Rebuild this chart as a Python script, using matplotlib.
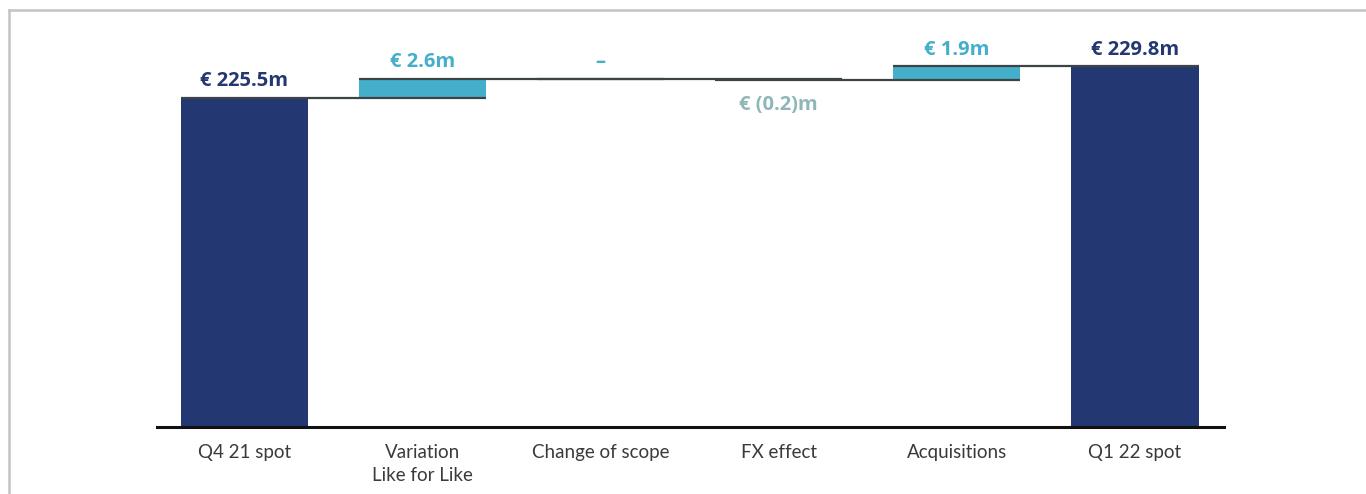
import matplotlib
matplotlib.use("Agg")
import matplotlib.pyplot as plt
from matplotlib.lines import Line2D

categories = ["Q4 21 spot", "Variation\nLike for Like", "Change of scope",
              "FX effect", "Acquisitions", "Q1 22 spot"]
values = [225.5, 2.6, 0.0, -0.2, 1.9, 229.8]
is_total = [True, False, False, False, False, True]
labels = ["€ 225.5m", "€ 2.6m", "–", "€ (0.2)m", "€ 1.9m", "€ 229.8m"]

NAVY = "#233872"
TEAL = "#44afca"
GREYTEAL = "#8fb7ba"
LINE = "#3c4446"

W, H = 1366, 494
fig = plt.figure(figsize=(W / 100, H / 100), dpi=100)
ax = fig.add_axes([157 / W, 67 / H, (1224 - 157) / W, (427 - 20) / H])
ymin = 180.0
ax.set_ylim(ymin, ymin + 407 / 7.24)
ax.set_xlim(-0.49, 5.5)
bw = 0.714

running = 0.0
levels = []
for i, (v, tot) in enumerate(zip(values, is_total)):
    if tot:
        ax.bar(i, v - 0, bottom=0, width=bw, color=NAVY, zorder=2)
        running = v
        top, bot = v, v
        lab_col = NAVY
    else:
        start = running
        running = running + v
        lo, hi = min(start, running), max(start, running)
        col = TEAL if v >= 0 else GREYTEAL
        if v != 0:
            ax.bar(i, hi - lo, bottom=lo, width=bw, color=col, zorder=2)
        top, bot = hi, lo
        lab_col = TEAL if v >= 0 else GREYTEAL
    levels.append(running)
    if v < 0 and not tot:
        ax.annotate(labels[i], (i, bot), xytext=(0, -11), textcoords="offset points",
                    ha="center", va="top", color=lab_col, fontsize=14.5,
                    fontfamily="Open Sans", fontweight="bold")
    else:
        ax.annotate(labels[i], (i, top), xytext=(0, 5), textcoords="offset points",
                    ha="center", va="bottom", color=lab_col, fontsize=14.5,
                    fontfamily="Open Sans", fontweight="bold")

for i in range(len(values) - 1):
    ax.hlines(levels[i], i - bw / 2, i + 1 + bw / 2, color=LINE, lw=1.6, zorder=3)

for s in ["top", "right", "left"]:
    ax.spines[s].set_visible(False)
ax.spines["bottom"].set_linewidth(2.2)
ax.spines["bottom"].set_color("#111111")
ax.spines["bottom"].set_zorder(4)
ax.set_yticks([])
ax.set_xticks(range(len(categories)))
ax.set_xticklabels(categories, fontsize=13.5, fontfamily="Lato", fontweight="normal",
                   color="#3a3a3a", linespacing=1.45)
ax.tick_params(axis="x", length=0, pad=12)

# frame border
fig.add_artist(Line2D([9 / W, 1], [1 - 10 / H, 1 - 10 / H], color="#c4c4c4", lw=1.8,
                      transform=fig.transFigure))
fig.add_artist(Line2D([9 / W, 9 / W], [0, 1 - 10 / H], color="#c4c4c4", lw=1.8,
                      transform=fig.transFigure))

fig.savefig("out.png", dpi=100)
